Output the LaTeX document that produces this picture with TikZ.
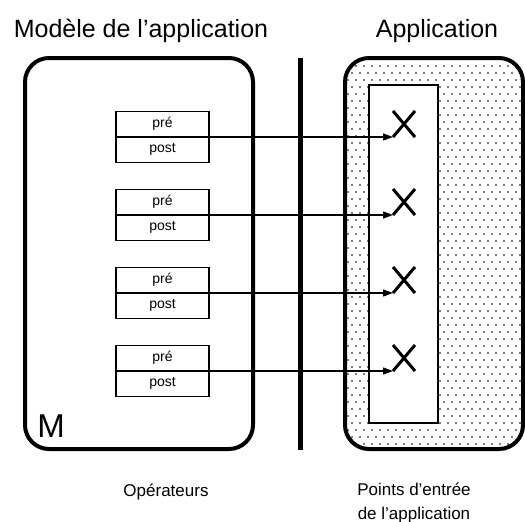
\documentclass[tikz,border=0pt]{standalone}
\usepackage{fontspec}
\setmainfont{Liberation Sans}
\usetikzlibrary{positioning,patterns,shapes.misc,arrows.meta}

% trame pointillee du cadre de droite
\pgfdeclarepatternformonly{pointille}{\pgfqpoint{-1pt}{-1pt}}{\pgfqpoint{5pt}{8pt}}{\pgfqpoint{4pt}{7pt}}{%
  \pgfpathcircle{\pgfqpoint{0pt}{0pt}}{0.45pt}
  \pgfpathcircle{\pgfqpoint{2pt}{3.5pt}}{0.45pt}
  \pgfusepath{fill}}

\begin{document}
\begin{tikzpicture}[x=0.5pt, y=-0.5pt,
>={Triangle[length=5pt,width=3.5pt]},
titre/.style={font=\fontsize{12.5}{15}\selectfont, anchor=base},
legende/.style={font=\fontsize{8.5}{12}\selectfont, align=center, anchor=base},
opbox/.style={rectangle, draw, line width=0.8pt, outer sep=0pt, inner sep=0pt, minimum width=46.5pt, minimum height=12.75pt, font=\fontsize{7}{8}\selectfont},
entree/.style={cross out, draw, line width=1.5pt, outer sep=0pt, inner sep=0pt, minimum width=11pt, minimum height=13pt}]
\useasboundingbox (0,0) rectangle (525,521);

% titres
\node[titre] (tmodele) at (141,37) {Modèle de l'application};
\node[titre] (tappli) at (437,37) {Application};

% cadres
\draw[line width=2pt, rounded corners=12pt] (25,58) rectangle (253,449);
\draw[line width=2pt, rounded corners=12pt, pattern=pointille] (345,58) rectangle (523,449);
\draw[line width=1pt, fill=white] (369,85) rectangle (438,423);
\draw[line width=2.5pt] (300,58) -- (300,450);
\node[font=\fontsize{16.5}{18}\selectfont, anchor=base west, inner sep=0pt] (lblM) at (37,437) {M};

% operateurs
\node[opbox] (pre1) at (162.5,124.25) {pré};
\node[opbox] (post1) [below=0pt of pre1] {post};
\node[opbox] (pre2) [below=13.5pt of post1] {pré};
\node[opbox] (post2) [below=0pt of pre2] {post};
\node[opbox] (pre3) [below=13.5pt of post2] {pré};
\node[opbox] (post3) [below=0pt of pre3] {post};
\node[opbox] (pre4) [below=13.5pt of post3] {pré};
\node[opbox] (post4) [below=0pt of pre4] {post};

% points d'entree
\node[entree] (x1) at (404,124) {};
\node[entree] (x2) at (404,202) {};
\node[entree] (x3) at (404,280) {};
\node[entree] (x4) at (404,358) {};
\draw[->, line width=0.6pt] (pre1.south east) -- (x1.south west);
\draw[->, line width=0.6pt] (pre2.south east) -- (x2.south west);
\draw[->, line width=0.6pt] (pre3.south east) -- (x3.south west);
\draw[->, line width=0.6pt] (pre4.south east) -- (x4.south west);

% legendes
\node[legende] (tops) at (166,496) {Opérateurs};
\node[legende] (tpoints) at (414,519) {Points d'entrée\\de l'application};
\end{tikzpicture}
\end{document}
